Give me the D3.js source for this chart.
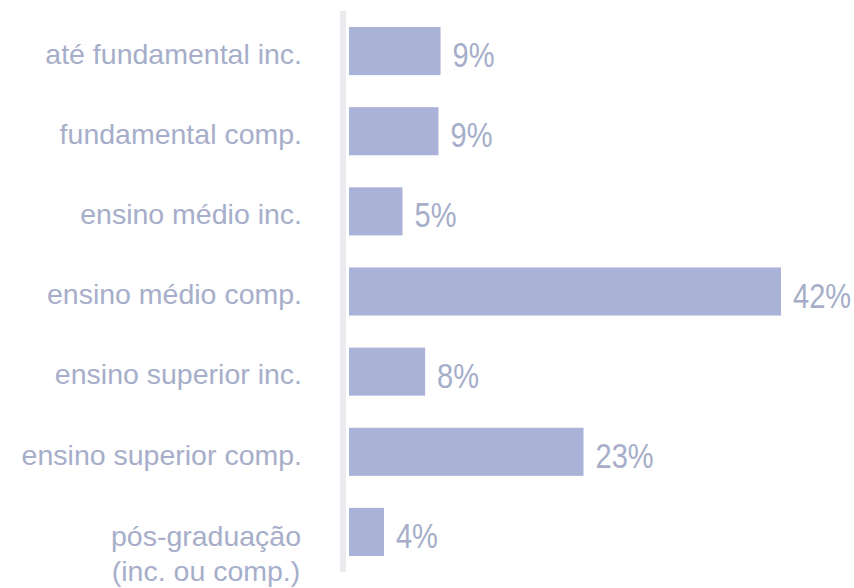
<!DOCTYPE html>
<html>
<head>
<meta charset="utf-8">
<script src="https://cdn.jsdelivr.net/npm/d3@7"></script>
<style>
  body { margin: 0; background: #fff; }
  text { font-family: "Liberation Sans", Arial, sans-serif; }
</style>
</head>
<body>
<div id="chart"></div>
<script>
// categories (multi-line labels split on "\n")
var categories = [
    "até fundamental inc.",
    "fundamental comp.",
    "ensino médio inc.",
    "ensino médio comp.",
    "ensino superior inc.",
    "ensino superior comp.",
    "pós-graduação\n(inc. ou comp.)"
];
// shares in percent
var values = [8.9, 8.7, 5.2, 42, 7.4, 22.8, 3.4];
// printed labels
var valueLabels = ["9%", "9%", "5%", "42%", "8%", "23%", "4%"];

var width = 854, height = 588;
var margin = {top: 11, right: 73, bottom: 16, left: 349};

var svg = d3.select("#chart").append("svg")
    .attr("width", width)
    .attr("height", height);

var g = svg.append("g")
    .attr("transform", "translate(" + margin.left + "," + margin.top + ")");

var innerH = height - margin.top - margin.bottom;

var x = d3.scaleLinear()
    .domain([0, 42])
    .range([0, 432]);

var y = d3.scaleBand()
    .domain(d3.range(categories.length))
    .range([0, innerH])
    .paddingInner(0.4)
    .paddingOuter(0.2);

// axis line
g.append("rect")
    .attr("x", -9)
    .attr("y", 0)
    .attr("width", 6)
    .attr("height", innerH)
    .attr("fill", "#ebebef");

g.selectAll(".bar")
    .data(values)
    .enter().append("rect")
    .attr("class", "bar")
    .attr("x", 0)
    .attr("y", function(d, i) { return y(i); })
    .attr("width", function(d) { return x(d); })
    .attr("height", y.bandwidth())
    .attr("fill", "#aab3d7");

// value labels are a condensed face: squeeze regular font horizontally
g.selectAll(".val")
    .data(values)
    .enter().append("text")
    .attr("class", "val")
    .attr("transform", function(d, i) {
        return "translate(" + (x(d) + 12) + "," + (y(i) + y.bandwidth() / 2) + ") scale(0.83,1)";
    })
    .attr("dy", "0.46em")
    .attr("font-size", 35)
    .attr("fill", "#a6aeca")
    .text(function(d, i) { return valueLabels[i]; });

var labels = g.selectAll(".cat")
    .data(categories)
    .enter().append("text")
    .attr("class", "cat")
    .attr("font-size", 28.5)
    .attr("fill", "#a6aeca")
    .attr("text-anchor", function(d) { return d.indexOf("\n") >= 0 ? "middle" : "end"; })
    .attr("y", function(d, i) { return y(i) + y.bandwidth() / 2; });

labels.each(function(d) {
    var lines = d.split("\n");
    var t = d3.select(this);
    lines.forEach(function(line, j) {
        t.append("tspan")
            .attr("x", lines.length > 1 ? -143 : -47)
            .attr("dy", j == 0 ? (lines.length > 1 ? "0.5em" : "0.45em") : "1.23em")
            .text(line);
    });
});
</script>
</body>
</html>
